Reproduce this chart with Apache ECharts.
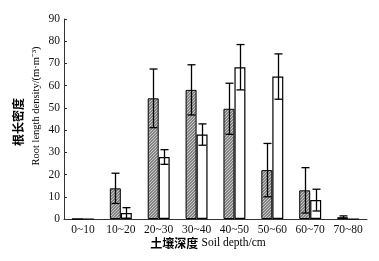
<!DOCTYPE html>
<html>
<head>
<meta charset="utf-8">
<script src="https://cdn.jsdelivr.net/npm/echarts@6/dist/echarts.min.js"></script>
<style>
  html, body { margin: 0; padding: 0; background: #fff; }
  #main { width: 379px; height: 261px; }
</style>
</head>
<body>
<div id="main"></div>
<script>
  // 土层深度
  var categories = ["0~10", "10~20", "20~30", "30~40", "40~50", "50~60", "60~70", "70~80"];
  // 斜线柱 (hatched)
  var hatchVals = [0, 13.8, 54.3, 58.1, 49.6, 22.0, 12.9, 0.8];
  var hatchErr = [0, 6.8, 13.2, 11.3, 11.5, 12.0, 10.2, 0.6];
  // 白柱 (open)
  var openVals = [0, 2.7, 27.9, 38.0, 68.3, 64.1, 8.5, 0];
  var openErr = [0, 2.4, 3.3, 4.8, 10.2, 10.2, 4.9, 0];
  var yTicks = [0, 10, 20, 30, 40, 50, 60, 70, 80, 90];

  var serif = "Liberation Serif";
  var cjk = "Noto Sans CJK SC";
  var barPct = 0.29;

  // hatch pattern
  function makeHatch() {
    var c = document.createElement("canvas");
    c.width = 3; c.height = 3;
    var ctx = c.getContext("2d");
    ctx.fillStyle = "#858585";
    ctx.fillRect(0, 0, 3, 3);
    ctx.fillStyle = "#c8c8c8";
    ctx.fillRect(2, 0, 1, 1);
    ctx.fillRect(1, 1, 1, 1);
    ctx.fillRect(0, 2, 1, 1);
    return c;
  }

  function errData(vals, errs) {
    return vals.map(function (v, i) { return [i, v, errs[i]]; });
  }

  function errRender(side) {
    return function (params, api) {
      var err = api.value(2);
      if (!err) return;
      var band = api.size([1, 0])[0];
      var off = side * band * barPct / 2;
      var top = api.coord([api.value(0), api.value(1) + err]);
      var bot = api.coord([api.value(0), api.value(1) - err]);
      var x = Math.round(top[0] + off) + 0.5;
      var cap = 4;
      var st = { stroke: "#000", lineWidth: 1.3 };
      return {
        type: "group",
        children: [
          { type: "line", shape: { x1: x, y1: top[1], x2: x, y2: bot[1] }, style: st },
          { type: "line", shape: { x1: x - cap, y1: top[1], x2: x + cap, y2: top[1] }, style: st },
          { type: "line", shape: { x1: x - cap, y1: bot[1], x2: x + cap, y2: bot[1] }, style: st }
        ]
      };
    };
  }

  var myChart = echarts.init(document.getElementById("main"));
  var option = {
    animation: false,
    backgroundColor: "#fff",
    grid: { left: 64, right: 12, top: 19, bottom: 42 },
    xAxis: {
      type: "category",
      data: categories,
      axisLine: { lineStyle: { color: "#333", width: 1 } },
      axisTick: { inside: true, length: 3, lineStyle: { color: "#333" } },
      axisLabel: { color: "#111", fontFamily: serif, fontSize: 11.5, margin: 5, interval: 0 }
    },
    yAxis: {
      type: "value",
      min: 0,
      max: 90,
      interval: 10,
      splitLine: { show: false },
      axisLine: { show: true, lineStyle: { color: "#333", width: 1 } },
      axisTick: { show: true, inside: true, length: 3, lineStyle: { color: "#333" } },
      axisLabel: { color: "#111", fontFamily: serif, fontSize: 11.5, margin: 4,
        formatter: function (v) { return yTicks.indexOf(v) >= 0 ? String(v) : ""; } }
    },
    graphic: [
      {
        type: "text", x: 18, y: 122, rotation: Math.PI / 2,
        style: { text: "根长密度", font: "bold 12px '" + cjk + "'", fill: "#000",
          align: "center", verticalAlign: "middle" }
      },
      {
        type: "text", x: 36, y: 106, rotation: Math.PI / 2,
        style: { text: "Root length density/(m·m⁻³)", font: "10.5px '" + serif + "'", fill: "#000",
          align: "center", verticalAlign: "middle" }
      },
      {
        type: "text", x: 208, y: 243,
        style: {
          rich: {
            c: { fontFamily: cjk, fontSize: 12, fontWeight: "bold", fill: "#000" },
            e: { fontFamily: serif, fontSize: 11.5, fill: "#000" }
          },
          text: "{c|土壤深度} {e|Soil depth/cm}",
          align: "center", verticalAlign: "middle"
        }
      }
    ],
    series: [
      {
        name: "hatch",
        type: "bar",
        data: hatchVals,
        barWidth: (barPct * 100) + "%",
        barGap: "0%",
        itemStyle: {
          color: { image: makeHatch(), repeat: "repeat" },
          borderColor: "#000",
          borderWidth: 1
        }
      },
      {
        name: "open",
        type: "bar",
        data: openVals,
        barWidth: (barPct * 100) + "%",
        barGap: "0%",
        itemStyle: { color: "#fff", borderColor: "#000", borderWidth: 1.2 }
      },
      {
        type: "custom",
        renderItem: errRender(-1),
        data: errData(hatchVals, hatchErr),
        encode: { x: 0, y: 1 },
        z: 5
      },
      {
        type: "custom",
        renderItem: errRender(1),
        data: errData(openVals, openErr),
        encode: { x: 0, y: 1 },
        z: 5
      }
    ]
  };
  if (option && typeof option === "object") {
    myChart.setOption(option);
  }
</script>
</body>
</html>
